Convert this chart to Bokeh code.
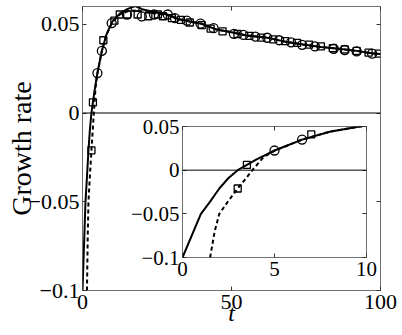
from bokeh.plotting import figure
from bokeh.models import Span, LinearAxis, FixedTicker, Range1d
from bokeh.layouts import column
from bokeh.embed import file_html
from bokeh.resources import INLINE

# ---- data ----
solid_t = [0, 1, 1.5, 2, 2.5, 3, 3.5, 4, 5, 6.5, 8, 10, 12.5, 15, 17.7, 20, 25, 28.5, 32, 36,
           40, 45, 50, 55, 62, 68, 74, 80, 86, 92, 97, 100]
solid_y = [-0.1, -0.05, -0.036, -0.021, -0.009, 0.0, 0.006, 0.012, 0.0225, 0.035, 0.044, 0.0515,
           0.056, 0.0585, 0.0602, 0.0585, 0.0565, 0.0555, 0.053, 0.0515, 0.0503, 0.047, 0.0455,
           0.0437, 0.0424, 0.0402, 0.0386, 0.0372, 0.0362, 0.035, 0.0336, 0.0332]

dash_t = [1.5, 1.75, 2, 2.5, 3, 3.5, 3.8, 4.4, 5, 6.5, 8, 10, 12.5, 15, 17.7, 20, 25, 28.5, 32, 36,
          40, 45, 50, 55, 62, 68, 74, 80, 86, 92, 97, 100]
dash_y = [-0.1, -0.07, -0.05, -0.035, -0.021, -0.008, 0.0, 0.0148, 0.0222, 0.035, 0.044, 0.0512,
          0.0555, 0.0572, 0.0578, 0.0572, 0.056, 0.0552, 0.053, 0.0515, 0.0503, 0.047, 0.0455,
          0.0437, 0.0424, 0.0402, 0.0386, 0.0372, 0.0362, 0.035, 0.0336, 0.0332]

circ_t = [5, 6.5, 9.8, 14.9, 17.7, 19.9, 24, 28.6, 31, 35, 39.6, 44, 50.8, 54, 58, 62, 66, 70,
          73.7, 78, 84.3, 88, 92, 97.2]
circ_y = [0.0225, 0.035, 0.0506, 0.0555, 0.0598, 0.0544, 0.0555, 0.0555, 0.0535, 0.052, 0.0503,
          0.0478, 0.0446, 0.044, 0.043, 0.0424, 0.041, 0.0398, 0.0384, 0.0375, 0.0362, 0.0355,
          0.0347, 0.0334]

sq_t = [3, 3.5, 7, 10.7, 12.5, 15, 18.5, 22.1, 25.3, 27, 30, 33, 36, 40, 43, 47, 52, 56, 60, 64,
        68, 72, 76, 80, 84, 88, 92, 96, 99.4]
sq_y = [-0.021, 0.006, 0.041, 0.052, 0.0555, 0.0555, 0.0555, 0.0545, 0.0555, 0.0545, 0.0535,
        0.0525, 0.051, 0.0495, 0.0475, 0.046, 0.0445, 0.0435, 0.0425, 0.0415, 0.0405, 0.0395,
        0.0385, 0.0375, 0.0365, 0.0358, 0.035, 0.034, 0.0334]

main_xticks = [0, 50, 100]
main_yticks = [-0.1, -0.05, 0, 0.05]
ytick_labels = {-0.1: "\u22120.1", -0.05: "\u22120.05", 0: "0", 0.05: "0.05"}
inset_xticks = [0, 5, 10]
inset_yticks = [-0.1, -0.05, 0, 0.05]

FONT = "Liberation Serif"
FRAME = "#707070"


def style(fig, xticks, yticks, ylabels, fsize):
    fig.xgrid.visible = False
    fig.ygrid.visible = False
    fig.outline_line_color = FRAME
    fig.outline_line_width = 1
    fig.background_fill_color = "white"
    fig.border_fill_color = None
    fig.below[0].ticker = FixedTicker(ticks=xticks)
    fig.left[0].ticker = FixedTicker(ticks=yticks)
    fig.left[0].major_label_overrides = ylabels
    for ax in (fig.below[0], fig.left[0]):
        ax.axis_line_color = None
        ax.major_tick_in = 4
        ax.major_tick_out = 0
        ax.minor_tick_line_color = None
        ax.major_tick_line_color = "#333333"
        ax.major_label_text_font = FONT
        ax.major_label_text_font_size = fsize
        ax.major_label_text_color = "black"
    fig.below[0].major_label_standoff = 4
    fig.left[0].major_label_standoff = 3
    for loc, tk in (("right", yticks), ("above", xticks)):
        ax = LinearAxis(ticker=FixedTicker(ticks=tk), axis_line_color=None,
                        major_tick_in=4, major_tick_out=0, minor_tick_line_color=None,
                        major_tick_line_color="#333333",
                        major_label_overrides={v: "" for v in tk},
                        major_label_text_font_size="1px", major_label_standoff=0)
        fig.add_layout(ax, loc)
    fig.add_layout(Span(location=0, dimension="width", line_color="black", line_width=1))


# ---- main figure ----
p = figure(width=400, height=333, x_range=Range1d(0, 100), y_range=Range1d(-0.1, 0.06),
           output_backend="svg", toolbar_location=None,
           min_border_left=82, min_border_right=20, min_border_top=6, min_border_bottom=43)
style(p, main_xticks, main_yticks, ytick_labels, "22px")
xa = p.below[0]
xa.axis_label = "t"
xa.axis_label_text_font = FONT
xa.axis_label_text_font_style = "italic"
xa.axis_label_text_font_size = "24px"
xa.axis_label_text_color = "black"
xa.axis_label_standoff = -12
ya = p.left[0]
ya.axis_label = "Growth rate"
ya.axis_label_text_font = FONT
ya.axis_label_text_font_style = "normal"
ya.axis_label_text_font_size = "28px"
ya.axis_label_text_color = "black"
ya.axis_label_standoff = -11

p.line(solid_t, solid_y, line_color="black", line_width=2)
p.line(dash_t, dash_y, line_color="black", line_width=2, line_dash="4 3")
p.scatter(circ_t, circ_y, marker="circle", size=9, line_color="black", line_width=1.3,
          fill_color=None)
p.scatter(sq_t, sq_y, marker="square", size=7, line_color="black", line_width=1.3,
          fill_color=None)

# ---- inset ----
pi = figure(frame_width=184, frame_height=131, x_range=Range1d(0, 10),
            y_range=Range1d(-0.1, 0.05), output_backend="svg", toolbar_location=None,
            min_border_left=80, min_border_right=14, min_border_top=14, min_border_bottom=26)
style(pi, inset_xticks, inset_yticks, ytick_labels, "21px")
pi.line(solid_t, solid_y, line_color="black", line_width=2)
pi.line(dash_t, dash_y, line_color="black", line_width=2, line_dash="4 3")
ci = [(t, y) for t, y in zip(circ_t, circ_y) if t <= 9.5]
si = [(t, y) for t, y in zip(sq_t, sq_y) if t <= 9.5]
pi.scatter([a for a, b in ci], [b for a, b in ci], marker="circle", size=9, line_color="black",
           line_width=1.3, fill_color=None)
pi.scatter([a for a, b in si], [b for a, b in si], marker="square", size=7, line_color="black",
           line_width=1.3, fill_color=None)
pi.styles = {"position": "absolute", "left": "100px", "top": "112px", "z-index": "5"}

layout = column(p, pi)
open("out.html", "w").write(file_html(layout, INLINE))
